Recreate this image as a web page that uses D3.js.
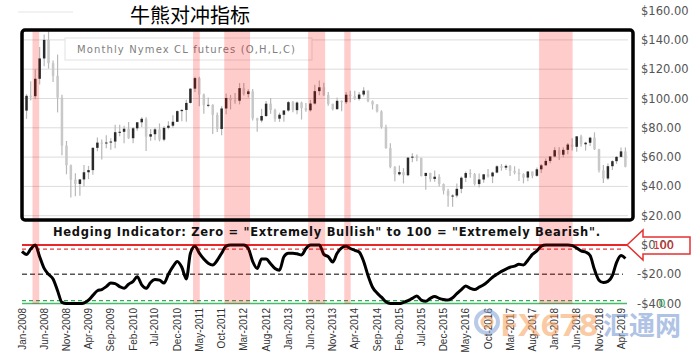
<!DOCTYPE html>
<html>
<head>
<meta charset="utf-8">
<script src="https://cdn.jsdelivr.net/npm/d3@7"></script>
<style>
  body { margin: 0; background: #fff; }
  svg { display: block; }
</style>
</head>
<body>
<svg id="chart" width="700" height="360"></svg>
<script>
// monthly Nymex CL futures, Jan 2008 .. May 2019
var open = [
  95.98, 91.75, 101.84, 101.58, 113.46, 127.35, 140.00, 124.08, 115.46, 100.64, 67.81, 54.43,
  44.60, 41.68, 44.76, 49.66, 51.12, 66.31, 69.89, 69.45, 69.96, 70.61, 77.00, 77.28,
  79.36, 72.89, 79.66, 83.76, 86.15, 73.97, 75.63, 78.95, 71.92, 79.97, 81.43, 84.11,
  91.38, 92.19, 96.97, 106.72, 113.93, 102.70, 95.42, 95.70, 88.81, 79.20, 93.19, 100.36,
  98.83, 98.48, 107.07, 103.02, 104.87, 86.53, 84.96, 88.06, 96.47, 92.19, 86.24, 88.91,
  91.82, 97.49, 92.05, 97.23, 93.46, 91.97, 96.56, 105.03, 107.65, 102.33, 96.38, 92.72,
  98.42, 97.49, 102.59, 101.58, 99.74, 102.71, 105.37, 98.17, 95.96, 91.16, 80.54, 66.15,
  53.27, 48.24, 49.76, 47.60, 59.63, 60.30, 59.47, 47.12, 49.20, 45.09, 46.59, 41.65,
  37.04, 33.62, 33.75, 38.34, 45.92, 49.10, 48.33, 41.60, 44.70, 48.24, 46.86, 49.44,
  53.72, 52.81, 54.01, 50.60, 49.33, 48.32, 46.04, 50.17, 47.23, 51.67, 54.38, 57.40,
  60.42, 64.73, 61.64, 64.94, 68.57, 67.04, 74.15, 68.76, 69.80, 73.25, 65.31, 50.93,
  45.41, 53.79, 57.22, 60.14, 63.91
];
var high = [
  100.09, 103.05, 111.80, 119.93, 135.09, 143.67, 147.27, 126.00, 130.00, 102.48, 71.00, 55.00,
  49.00, 44.90, 54.66, 53.99, 66.65, 73.38, 71.96, 75.00, 72.91, 82.00, 82.00, 81.40,
  83.95, 80.51, 83.85, 87.15, 87.15, 79.19, 80.00, 82.97, 81.00, 84.43, 88.63, 91.88,
  92.58, 99.21, 106.95, 114.83, 114.83, 103.41, 100.62, 95.99, 90.52, 94.65, 103.37, 102.44,
  103.74, 110.55, 110.55, 106.39, 106.43, 86.84, 92.94, 98.29, 100.42, 93.03, 90.33, 91.95,
  98.24, 98.24, 97.90, 97.86, 97.00, 99.00, 109.32, 112.24, 110.74, 104.38, 96.45, 100.75,
  98.58, 104.39, 105.22, 105.30, 104.45, 107.73, 105.40, 98.72, 96.01, 92.00, 82.00, 69.50,
  54.00, 54.24, 52.48, 59.90, 62.58, 61.81, 59.60, 49.26, 49.28, 50.92, 48.35, 42.00,
  38.39, 34.69, 41.90, 46.78, 50.21, 51.67, 49.20, 48.75, 48.35, 51.93, 50.00, 54.51,
  55.24, 54.94, 54.61, 53.76, 52.00, 49.00, 50.43, 50.22, 52.86, 55.22, 59.05, 60.51,
  66.66, 66.66, 66.66, 69.56, 72.90, 74.46, 75.27, 70.41, 73.88, 76.90, 65.74, 54.55,
  55.55, 57.81, 60.73, 66.60, 66.60
];
var low = [
  86.11, 86.11, 98.65, 99.55, 109.56, 122.02, 120.42, 111.34, 90.51, 61.30, 48.25, 32.40,
  33.20, 33.55, 40.05, 45.00, 48.00, 64.00, 58.32, 66.00, 65.05, 66.00, 74.21, 69.50,
  72.43, 69.50, 78.00, 80.61, 64.24, 71.16, 71.50, 70.76, 70.76, 79.00, 80.00, 84.00,
  84.39, 84.10, 96.60, 104.41, 94.63, 89.61, 94.02, 75.71, 77.11, 74.95, 89.32, 92.52,
  96.50, 96.00, 102.11, 100.68, 84.93, 77.28, 83.65, 87.43, 89.61, 84.05, 84.05, 84.05,
  91.02, 90.62, 89.33, 85.61, 90.94, 91.08, 95.90, 102.22, 101.64, 95.01, 91.77, 92.24,
  91.24, 96.29, 97.37, 99.00, 98.57, 101.45, 97.43, 92.50, 90.43, 79.44, 65.69, 52.44,
  43.58, 47.36, 42.03, 47.00, 56.51, 57.19, 46.70, 37.75, 43.21, 43.09, 39.93, 34.53,
  26.19, 26.05, 32.49, 35.24, 43.03, 45.83, 40.57, 39.19, 42.52, 46.00, 42.20, 49.00,
  50.71, 51.22, 47.09, 48.18, 43.76, 42.05, 43.57, 45.58, 46.54, 49.10, 54.20, 55.82,
  59.96, 58.07, 59.95, 62.00, 64.43, 63.59, 67.03, 64.43, 67.64, 64.86, 49.41, 42.36,
  44.35, 51.23, 55.37, 59.86, 53.00
];
var close = [
  91.75, 101.84, 101.58, 113.46, 127.35, 140.00, 124.08, 115.46, 100.64, 67.81, 54.43, 44.60,
  41.68, 44.76, 49.66, 51.12, 66.31, 69.89, 69.45, 69.96, 70.61, 77.00, 77.28, 79.36,
  72.89, 79.66, 83.76, 86.15, 73.97, 75.63, 78.95, 71.92, 79.97, 81.43, 84.11, 91.38,
  92.19, 96.97, 106.72, 113.93, 102.70, 95.42, 95.70, 88.81, 79.20, 93.19, 100.36, 98.83,
  98.48, 107.07, 103.02, 104.87, 86.53, 84.96, 88.06, 96.47, 92.19, 86.24, 88.91, 91.82,
  97.49, 92.05, 97.23, 93.46, 91.97, 96.56, 105.03, 107.65, 102.33, 96.38, 92.72, 98.42,
  97.49, 102.59, 101.58, 99.74, 102.71, 105.37, 98.17, 95.96, 91.16, 80.54, 66.15, 53.27,
  48.24, 49.76, 47.60, 59.63, 60.30, 59.47, 47.12, 49.20, 45.09, 46.59, 41.65, 37.04,
  33.62, 33.75, 38.34, 45.92, 49.10, 48.33, 41.60, 44.70, 48.24, 46.86, 49.44, 53.72,
  52.81, 54.01, 50.60, 49.33, 48.32, 46.04, 50.17, 47.23, 51.67, 54.38, 57.40, 60.42,
  64.73, 61.64, 64.94, 68.57, 67.04, 74.15, 68.76, 69.80, 73.25, 65.31, 50.93, 45.41,
  53.79, 57.22, 60.14, 63.91, 53.50
];
// hedging indicator, 0 = extremely bullish .. 100 = extremely bearish
var hedging = [
  89, 84, 93, 100, 80, 60, 50, 42, 22, 2, 0, 0,
  0, 0, 1, 6, 14, 22, 24, 29, 35, 34, 29, 26,
  33, 38, 46, 32, 26, 36, 41, 40, 35, 50, 63, 72,
  62, 42, 86, 98, 86, 76, 69, 66, 74, 86, 98, 100,
  100, 100, 100, 94, 72, 60, 76, 76, 68, 60, 57, 80,
  86, 86, 85, 83, 94, 100, 100, 100, 84, 80, 71, 86,
  95, 98, 94, 91, 88, 72, 48, 28, 18, 11, 3, 0,
  0, 0, 2, 5, 9, 13, 6, 4, 9, 12, 9, 7,
  6, 10, 17, 24, 30, 26, 24, 28, 32, 38, 45, 50,
  55, 59, 62, 64, 67, 66, 74, 84, 90, 98, 100, 100,
  100, 100, 100, 100, 99, 95, 90, 88, 82, 58, 40, 36,
  38, 48, 70, 82, 77
];
var tickLabels = [
  "Jan-2008", "Jun-2008", "Nov-2008", "Apr-2009", "Sep-2009", "Feb-2010", "Jul-2010",
  "Dec-2010", "May-2011", "Oct-2011", "Mar-2012", "Aug-2012", "Jan-2013", "Jun-2013",
  "Nov-2013", "Apr-2014", "Sep-2014", "Feb-2015", "Jul-2015", "Dec-2015", "May-2016",
  "Oct-2016", "Mar-2017", "Aug-2017", "Jan-2018", "Jun-2018", "Nov-2018", "Apr-2019"
];
var shadeFrom = ["2008-03-13", "2011-03-19", "2011-10-19", "2013-05-16", "2014-01-19", "2017-09-16"];
var shadeTo   = ["2008-04-28", "2011-05-04", "2012-04-13", "2013-09-10", "2014-03-04", "2018-05-04"];
var priceTicks = [-40, -20, 0, 20, 40, 60, 80, 100, 120, 140, 160];
var gridTicks = [20, 40, 60, 80, 100, 120, 140];
var hedgeLevels = [
  { v: 93, color: "#e83a3a", dash: "4,3", w: 1.2 },
  { v: 50, color: "#555", dash: "5,3", w: 1.6 },
  { v: 5, color: "#2eaa55", dash: "4,3", w: 1.2 },
  { v: 100, color: "#e62828", dash: null, w: 2 },
  { v: 0, color: "#49b96c", dash: null, w: 1.5 }
];

var svg = d3.select("#chart");
var parseMonth = d3.timeParse("%Y-%m");
var parseDay = d3.timeParse("%Y-%m-%d");
var parseLabel = d3.timeParse("%b-%Y");

var months = d3.timeMonth.range(parseMonth("2008-01"), parseMonth("2019-06"));
var data = months.map(function (d, i) {
  return { date: d, o: open[i], h: high[i], l: low[i], c: close[i], hedge: hedging[i] };
});

var x = d3.scaleTime().domain([months[0], months[months.length - 1]]).range([22, 625.4]);
var y = d3.scaleLinear().domain([-40, 160]).range([303.6, 10.6]);
var yHedge = d3.scaleLinear().domain([0, 100]).range([y(-40), y(0)]);

// little stray rule top-left
svg.append("line").attr("x1", 18).attr("x2", 73).attr("y1", 12).attr("y2", 12)
  .attr("stroke", "#e4e4e4").attr("stroke-width", 1);

// price grid
svg.append("g").selectAll("line").data(gridTicks).enter().append("line")
  .attr("x1", 22).attr("x2", 628)
  .attr("y1", d => y(d)).attr("y2", d => y(d))
  .attr("stroke", "#dcdcdc").attr("stroke-width", 1);

// legend box
svg.append("rect").attr("x", 65).attr("y", 38).attr("width", 247).attr("height", 22)
  .attr("fill", "#fff").attr("stroke", "#e2e2e2");
svg.append("text").attr("x", 77).attr("y", 52.5)
  .attr("font-family", "DejaVu Sans").attr("font-size", 10)
  .attr("fill", "#808080").attr("textLength", 218).attr("lengthAdjust", "spacing")
  .text("Monthly Nymex CL futures (O,H,L,C)");

// candles
var candle = svg.append("g").selectAll("g").data(data).enter().append("g")
  .attr("transform", d => "translate(" + x(d.date) + ",0)");
candle.append("line")
  .attr("y1", d => y(d.h)).attr("y2", d => y(d.l))
  .attr("stroke", "#b8b8b8").attr("stroke-width", 1.2);
candle.append("rect")
  .attr("x", -1.25).attr("width", 2.5)
  .attr("y", d => y(Math.max(d.o, d.c)))
  .attr("height", d => Math.max(1, Math.abs(y(d.o) - y(d.c))))
  .attr("fill", d => d.c > d.o ? "#2a2a2a" : "#c8c8c8");

// indicator reference lines
svg.append("g").selectAll("line").data(hedgeLevels).enter().append("line")
  .attr("x1", 22).attr("x2", d => d.dash ? 623 : 627)
  .attr("y1", d => yHedge(d.v)).attr("y2", d => yHedge(d.v))
  .attr("stroke", d => d.color).attr("stroke-width", d => d.w)
  .attr("stroke-dasharray", d => d.dash);

// indicator line
var hedgeLine = d3.line()
  .x(d => x(d.date))
  .y(d => yHedge(d.hedge))
  .curve(d3.curveMonotoneX);
svg.append("path").datum(data).attr("d", hedgeLine)
  .attr("fill", "none").attr("stroke", "#000").attr("stroke-width", 3)
  .attr("stroke-linejoin", "round");

// shaded bearish periods
svg.append("g").selectAll("rect").data(shadeFrom).enter().append("rect")
  .attr("x", d => x(parseDay(d)))
  .attr("width", (d, i) => x(parseDay(shadeTo[i])) - x(parseDay(d)))
  .attr("y", 31).attr("height", 273)
  .attr("fill", "rgba(255,0,0,0.2)");

// price panel frame
svg.append("rect").attr("x", 22).attr("y", 30).attr("width", 611).attr("height", 190)
  .attr("rx", 3).attr("fill", "none").attr("stroke", "#000").attr("stroke-width", 3.5);

// title
svg.append("text").attr("x", 190).attr("y", 23).attr("text-anchor", "middle")
  .attr("font-family", "Noto Sans CJK SC").attr("font-size", 20).attr("fill", "#000")
  .text("牛熊对冲指标");

// indicator heading
svg.append("text").attr("x", 53).attr("y", 236)
  .attr("font-family", "DejaVu Sans").attr("font-weight", "bold").attr("font-size", 11.5)
  .attr("fill", "#111").attr("textLength", 547).attr("lengthAdjust", "spacing")
  .text("Hedging Indicator: Zero = \"Extremely Bullish\" to 100 = \"Extremely Bearish\".");

// arrow marker pointing at the 100 line
var ay = y(0);
svg.append("polygon")
  .attr("points", [[627, ay], [643, ay - 15], [643, ay - 8], [690, ay - 8], [690, ay + 9], [643, ay + 9], [643, ay + 15]].join(" "))
  .attr("fill", "#fff").attr("stroke", "#e53030").attr("stroke-width", 1.5);

// right axis labels
var fmtMoney = function (v) { return (v < 0 ? "-$" : "$") + d3.format(".2f")(Math.abs(v)); };
svg.append("g").selectAll("text").data(priceTicks).enter().append("text")
  .attr("x", d => d < 0 ? 637 : 641).attr("y", d => y(d)).attr("dy", "0.35em")
  .attr("font-family", "DejaVu Sans").attr("font-size", 11.5).attr("fill", "#555")
  .text(fmtMoney);

// secondary indicator labels overlapping the price axis, as in the source
svg.append("text").attr("x", 653).attr("y", yHedge(100)).attr("dy", "0.35em")
  .attr("font-family", "DejaVu Sans").attr("font-size", 11).attr("fill", "#e03030")
  .text("100");
svg.append("text").attr("x", 662).attr("y", yHedge(0)).attr("dy", "0.35em")
  .attr("text-anchor", "middle")
  .attr("font-family", "DejaVu Sans").attr("font-size", 11).attr("fill", "#2eaa55")
  .text("0");

// x axis labels
svg.append("g").selectAll("text").data(tickLabels).enter().append("text")
  .attr("transform", d => "translate(" + x(parseLabel(d)) + ",308) rotate(-90)")
  .attr("text-anchor", "end").attr("dy", "0.35em")
  .attr("font-family", "Liberation Sans").attr("font-size", 10).attr("fill", "#333")
  .text(d => d);

// watermark
var wm = svg.append("g").attr("opacity", 0.55);
wm.append("circle").attr("cx", 487).attr("cy", 322).attr("r", 11)
  .attr("fill", "none").attr("stroke", "#7f9fd6").attr("stroke-width", 4);
wm.append("circle").attr("cx", 487).attr("cy", 322).attr("r", 5)
  .attr("fill", "none").attr("stroke", "#f39a50").attr("stroke-width", 3);
wm.append("text").attr("x", 500).attr("y", 336)
  .attr("font-family", "Open Sans").attr("font-weight", "bold").attr("font-size", 30)
  .attr("fill", "#f5a05a").attr("textLength", 98).attr("lengthAdjust", "spacingAndGlyphs")
  .text("FX678");
wm.append("text").attr("x", 603).attr("y", 335)
  .attr("font-family", "Noto Sans CJK SC").attr("font-weight", "bold").attr("font-size", 26)
  .attr("fill", "#6f93d0").text("汇通网");
</script>
</body>
</html>
